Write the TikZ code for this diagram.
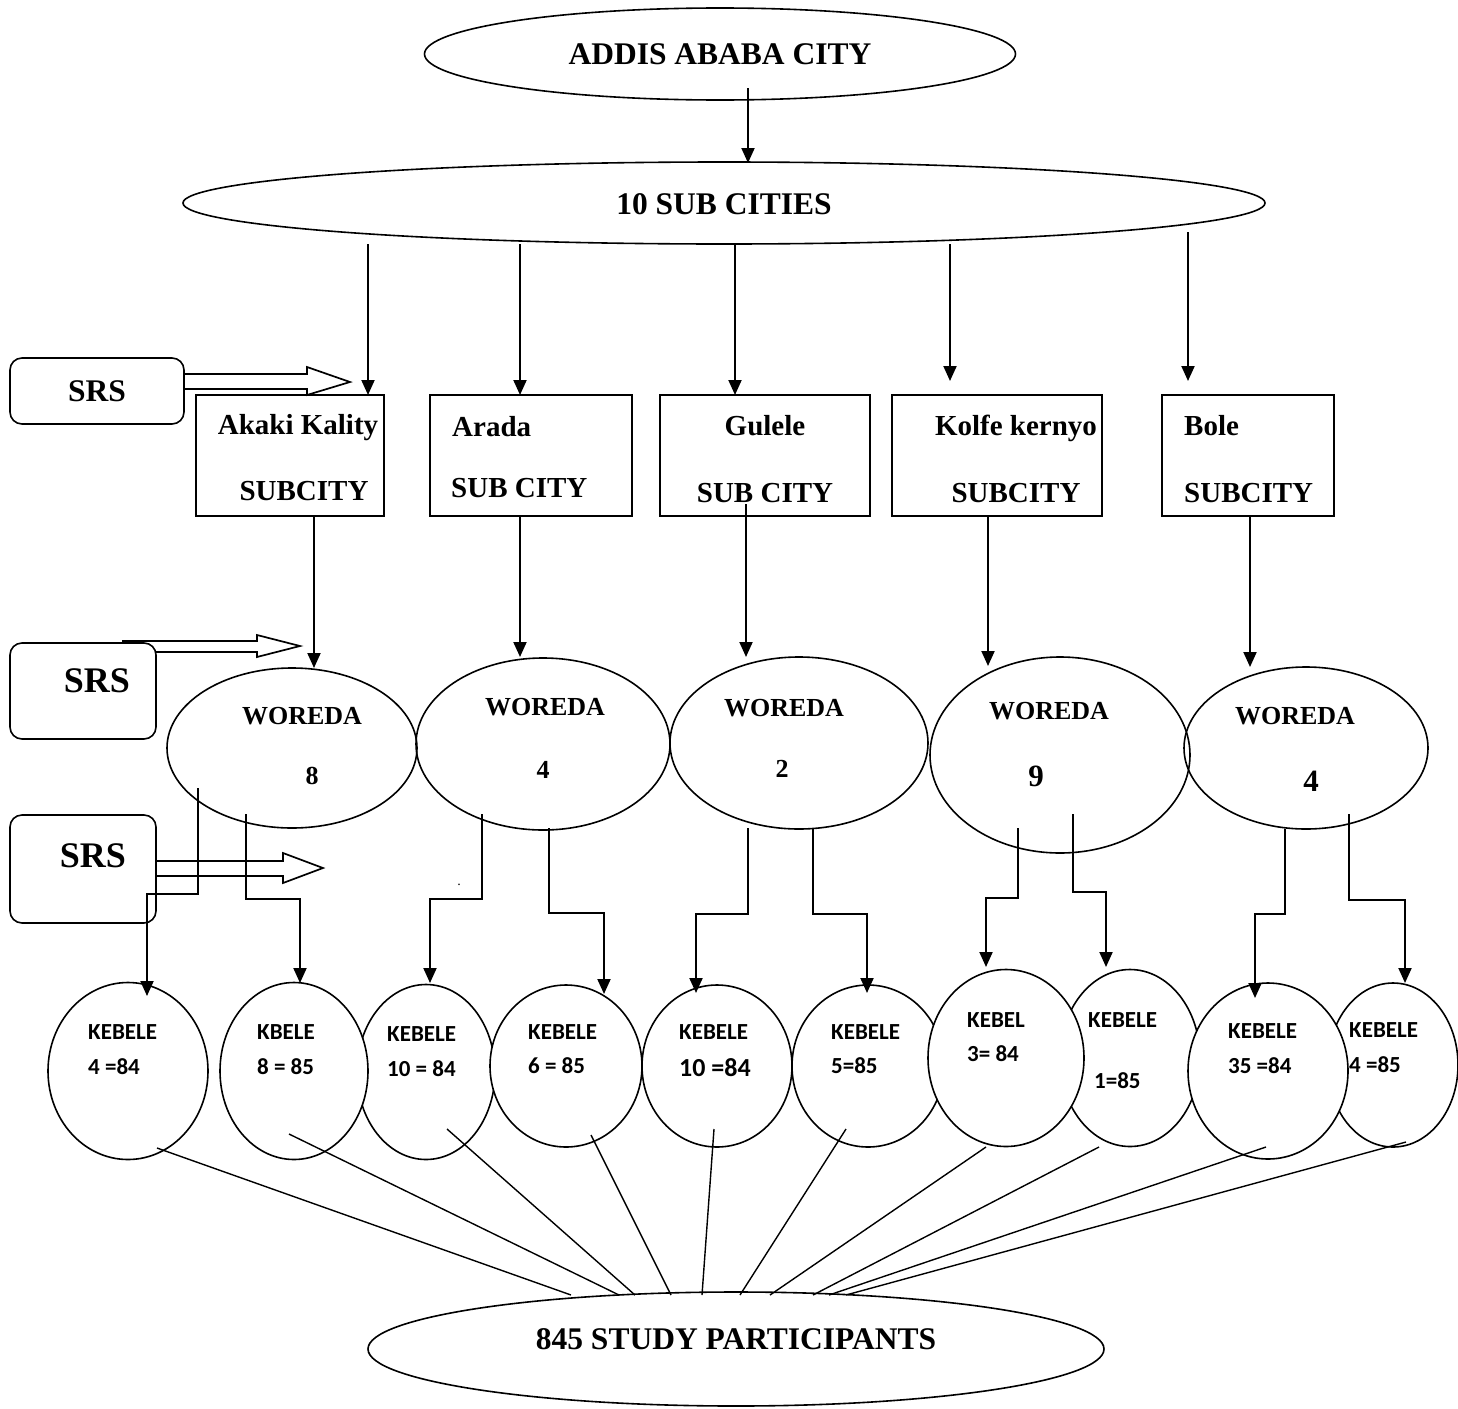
\documentclass[tikz,border=0pt]{standalone}
\usepackage{fontspec}
\setmainfont{Liberation Serif}
\newfontfamily\kfont{Carlito}
\usetikzlibrary{shapes.geometric,arrows.meta}
\tikzset{
  ell/.style={ellipse, draw, line width=1.6pt, inner sep=0pt},
  kell/.style={ellipse, draw, fill=white, line width=1.6pt, inner sep=0pt},
  subbox/.style={rectangle, draw, line width=1.8pt, inner sep=0pt},
  srsbox/.style={rectangle, rounded corners=12pt, draw, line width=1.6pt, inner sep=0pt},
  arr/.style={line width=2pt, -{Triangle[length=15pt,width=13pt]}},
  joinline/.style={line width=1.4pt},
  dblarrow/.style={line width=1.7pt, line join=miter},
  bigtxt/.style={font=\fontsize{31.5}{31.5}\selectfont\bfseries, anchor=base, inner sep=0pt},
  srstxt/.style={font=\fontsize{36}{36}\selectfont\bfseries, anchor=base, inner sep=0pt},
  boxtxt/.style={font=\fontsize{29}{29}\selectfont\bfseries, anchor=base, inner sep=0pt},
  wtxt/.style={font=\fontsize{26}{26}\selectfont\bfseries, anchor=base, inner sep=0pt},
  wnum/.style={font=\fontsize{31}{31}\selectfont\bfseries, anchor=base, inner sep=0pt},
  ktxt/.style={font=\kfont\fontsize{23}{23}\selectfont\bfseries, anchor=base west, inner sep=0pt},
  ktxtb/.style={font=\kfont\fontsize{26}{26}\selectfont\bfseries, anchor=base west, inner sep=0pt}
}
\begin{document}
\begin{tikzpicture}[x=1pt,y=-1pt]
\useasboundingbox (0,0) rectangle (1458,1408);

% top levels
\node[ell, minimum width=591pt, minimum height=92pt] (addis) at (720,54) {};
\node[bigtxt] (addist) at (720,64) {ADDIS ABABA CITY};
\node[ell, minimum width=1082pt, minimum height=82pt] (subs) at (724,203) {};
\node[bigtxt] (subst) at (724,214) {10 SUB CITIES};
\draw[arr] (748,88) -- (748,163);

% SRS boxes
\node[srsbox, minimum width=174pt, minimum height=66pt] (srs1) at (97,391) {};
\node[bigtxt] (srs1t) at (97,401) {SRS};
\node[srsbox, minimum width=146pt, minimum height=96pt] (srs2) at (83,691) {};
\node[srstxt] (srs2t) at (97,692) {SRS};
\node[srsbox, minimum width=146pt, minimum height=108pt] (srs3) at (83,869) {};
\node[srstxt] (srs3t) at (93,867) {SRS};

% double (open) arrows
\draw[dblarrow] (185,374) -- (307,374) -- (307,367) -- (350,382) -- (307,395) -- (307,389) -- (185,389);
\draw[dblarrow] (122,641) -- (257,641) -- (257,635) -- (300,646) -- (257,657) -- (257,652) -- (155,652);
\draw[dblarrow] (155,861) -- (283,861) -- (283,853) -- (323,868) -- (283,883) -- (283,876) -- (155,876);

% sub city boxes
\node[subbox, minimum width=188pt, minimum height=121pt] (akaki) at (290,455.5) {};
\node[boxtxt] (akakit1) at (298,434) {Akaki Kality};
\node[boxtxt] (akakit2) at (304,500) {SUBCITY};
\node[subbox, minimum width=202pt, minimum height=121pt] (arada) at (531,455.5) {};
\node[boxtxt, anchor=base west] (aradat1) at (452,436) {Arada};
\node[boxtxt, anchor=base west] (aradat2) at (451,497) {SUB CITY};
\node[subbox, minimum width=210pt, minimum height=121pt] (gulele) at (765,455.5) {};
\node[boxtxt] (gulelet1) at (765,435) {Gulele};
\node[boxtxt] (gulelet2) at (765,502) {SUB CITY};
\node[subbox, minimum width=210pt, minimum height=121pt] (kolfe) at (997,455.5) {};
\node[boxtxt] (kolfet1) at (1016,435) {Kolfe kernyo};
\node[boxtxt] (kolfet2) at (1016,502) {SUBCITY};
\node[subbox, minimum width=172pt, minimum height=121pt] (bole) at (1248,455.5) {};
\node[boxtxt, anchor=base west] (bolet1) at (1184,435) {Bole};
\node[boxtxt, anchor=base west] (bolet2) at (1184,502) {SUBCITY};

% arrows from 10 sub cities
\draw[arr] (368,244) -- (368,395);
\draw[arr] (520,244) -- (520,395);
\draw[arr] (735,244) -- (735,395);
\draw[arr] (950,244) -- (950,381);
\draw[arr] (1188,232) -- (1188,381);

% woreda ellipses
\node[ell, minimum width=250pt, minimum height=160pt] (w1) at (292,748) {};
\node[wtxt] (w1t) at (302,724) {WOREDA};
\node[wtxt] (w1n) at (312,784) {8};
\node[ell, minimum width=254pt, minimum height=172pt] (w2) at (543,744) {};
\node[wtxt] (w2t) at (545,715) {WOREDA};
\node[wtxt] (w2n) at (543,778) {4};
\node[ell, minimum width=258pt, minimum height=172pt] (w3) at (799,743) {};
\node[wtxt] (w3t) at (784,716) {WOREDA};
\node[wtxt] (w3n) at (782,777) {2};
\node[ell, minimum width=260pt, minimum height=196pt] (w4) at (1060,755) {};
\node[wtxt] (w4t) at (1049,719) {WOREDA};
\node[wnum] (w4n) at (1036,786) {9};
\node[ell, minimum width=244pt, minimum height=162pt] (w5) at (1306,748) {};
\node[wtxt] (w5t) at (1295,724) {WOREDA};
\node[wnum] (w5n) at (1311,791) {4};

% arrows from boxes to woredas
\draw[arr] (314,516) -- (314,668);
\draw[arr] (520,516) -- (520,657);
\draw[arr] (746,504) -- (746,657);
\draw[arr] (988,516) -- (988,666);
\draw[arr] (1250,516) -- (1250,667);

% kebele ellipses (back ones first)
\node[kell, minimum width=138pt, minimum height=175pt] (k3) at (426,1072) {};
\node[kell, minimum width=152pt, minimum height=162pt] (k6) at (868,1066) {};
\node[kell, minimum width=140pt, minimum height=177pt] (k8) at (1130,1058) {};
\node[kell, minimum width=130pt, minimum height=164pt] (k10) at (1393,1065) {};
\node[kell, minimum width=160pt, minimum height=177pt] (k1) at (128,1071) {};
\node[kell, minimum width=148pt, minimum height=177pt] (k2) at (294,1071) {};
\node[kell, minimum width=152pt, minimum height=162pt] (k4) at (566,1066) {};
\node[kell, minimum width=150pt, minimum height=162pt] (k5) at (717,1066) {};
\node[kell, minimum width=156pt, minimum height=177pt] (k7) at (1006,1058) {};
\node[kell, minimum width=160pt, minimum height=176pt] (k9) at (1268,1071) {};

\node[ktxt] (k1a) at (88,1039) {KEBELE};
\node[ktxt] (k1b) at (88,1074) {4 =84};
\node[ktxt] (k2a) at (257,1039) {KBELE};
\node[ktxt] (k2b) at (257,1074) {8 = 85};
\node[ktxt] (k3a) at (387,1041) {KEBELE};
\node[ktxt] (k3b) at (387,1076) {10 = 84};
\node[ktxt] (k4a) at (528,1039) {KEBELE};
\node[ktxt] (k4b) at (528,1073) {6 = 85};
\node[ktxt] (k5a) at (679,1039) {KEBELE};
\node[ktxtb] (k5b) at (679,1076) {10 =84};
\node[ktxt] (k6a) at (831,1039) {KEBELE};
\node[ktxt] (k6b) at (831,1073) {5=85};
\node[ktxt] (k7a) at (967,1027) {KEBEL};
\node[ktxt] (k7b) at (967,1061) {3= 84};
\node[ktxt] (k8a) at (1088,1027) {KEBELE};
\node[ktxt] (k8b) at (1094,1088) {1=85};
\node[ktxt] (k9a) at (1228,1038) {KEBELE};
\node[ktxt] (k9b) at (1228,1073) {35 =84};
\node[ktxt] (k10a) at (1349,1037) {KEBELE};
\node[ktxt] (k10b) at (1349,1072) {4 =85};

% elbow arrows woreda -> kebele
\draw[arr] (198,788) -- (198,894) -- (147,894) -- (147,996);
\draw[arr] (246,814) -- (246,899) -- (300,899) -- (300,983);
\draw[arr] (482,814) -- (482,899) -- (430,899) -- (430,983);
\draw[arr] (549,828) -- (549,913) -- (604,913) -- (604,994);
\draw[arr] (748,828) -- (748,914) -- (696,914) -- (696,993);
\draw[arr] (813,828) -- (813,914) -- (867,914) -- (867,993);
\draw[arr] (1018,828) -- (1018,898) -- (986,898) -- (986,967);
\draw[arr] (1073,814) -- (1073,892) -- (1106,892) -- (1106,967);
\draw[arr] (1285,829) -- (1285,914) -- (1255,914) -- (1255,998);
\draw[arr] (1349,814) -- (1349,900) -- (1405,900) -- (1405,983);

\node[font=\fontsize{14}{14}\selectfont, anchor=base, inner sep=0pt] (dot) at (459,885) {.};

% final ellipse
\node[ell, minimum width=736pt, minimum height=114pt] (part) at (736,1349) {};
\node[bigtxt] (partt) at (736,1349) {845 STUDY PARTICIPANTS};

% lines from kebeles to participants
\draw[joinline] (157,1148) -- (571,1295);
\draw[joinline] (289,1134) -- (619,1295);
\draw[joinline] (447,1129) -- (635,1295);
\draw[joinline] (591,1135) -- (671,1295);
\draw[joinline] (714,1129) -- (702,1295);
\draw[joinline] (846,1129) -- (740,1295);
\draw[joinline] (986,1147) -- (770,1295);
\draw[joinline] (1099,1147) -- (813,1295);
\draw[joinline] (1266,1147) -- (829,1295);
\draw[joinline] (1406,1142) -- (846,1295);
\end{tikzpicture}
\end{document}
